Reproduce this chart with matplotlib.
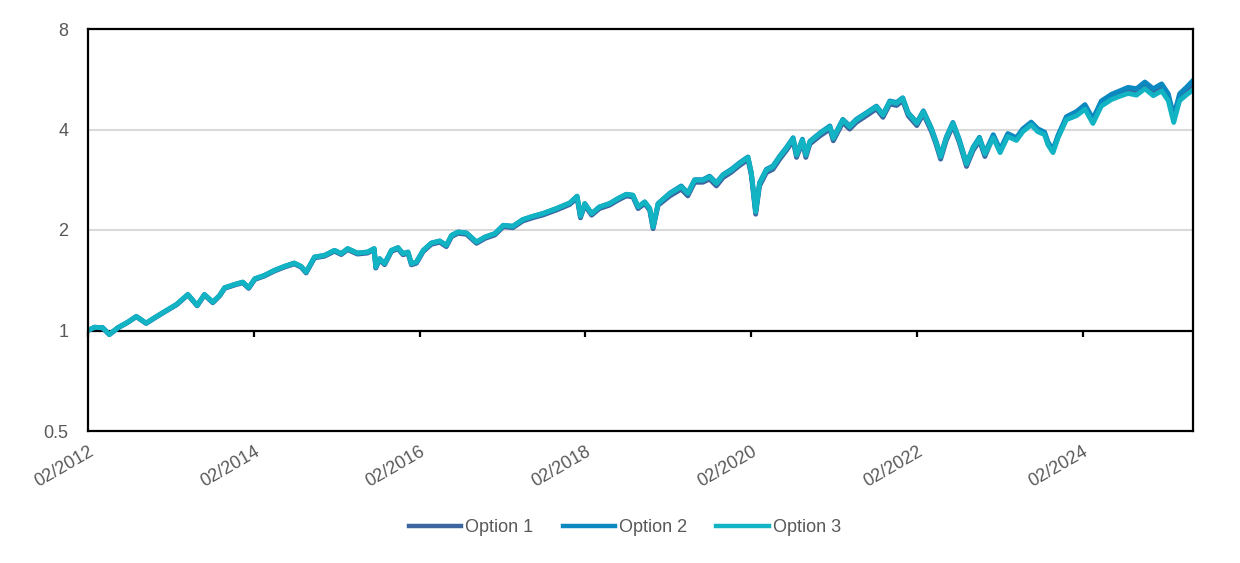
import matplotlib
matplotlib.use("Agg")
import matplotlib.pyplot as plt
import matplotlib.dates as mdates
import pandas as pd

plt.rcParams['font.family'] = ['Liberation Sans', 'DejaVu Sans']

dates = [
    "2012-02-01", "2012-03-01", "2012-04-06", "2012-05-05", "2012-06-11", "2012-07-25", "2012-09-01", "2012-10-14", "2012-11-20",
    "2013-01-04", "2013-02-25", "2013-04-16", "2013-05-27", "2013-06-28", "2013-08-04", "2013-09-03", "2013-09-25", "2013-11-08", "2013-12-14",
    "2014-01-09", "2014-02-05", "2014-03-19", "2014-05-02", "2014-06-15", "2014-07-29", "2014-08-28", "2014-09-19", "2014-10-26", "2014-12-09",
    "2015-01-22", "2015-02-21", "2015-03-21", "2015-05-03", "2015-06-17", "2015-07-16", "2015-07-23", "2015-08-09", "2015-08-31", "2015-09-30",
    "2015-10-29", "2015-11-20", "2015-12-12", "2015-12-27",
    "2016-01-18", "2016-02-17", "2016-03-24", "2016-04-30", "2016-05-29", "2016-06-21", "2016-07-20", "2016-08-26", "2016-10-09", "2016-11-15", "2016-12-29",
    "2017-02-04", "2017-03-18", "2017-05-01", "2017-06-15", "2017-07-28", "2017-09-26", "2017-11-24", "2017-12-26",
    "2018-01-10", "2018-01-29", "2018-02-28", "2018-04-04", "2018-05-18", "2018-06-24", "2018-07-31", "2018-08-29", "2018-09-21", "2018-10-20",
    "2018-11-11", "2018-11-26", "2018-12-18",
    "2019-02-08", "2019-03-30", "2019-04-28", "2019-05-28", "2019-07-03", "2019-08-02", "2019-09-01", "2019-09-30", "2019-11-06", "2019-12-12",
    "2020-01-18", "2020-02-02", "2020-02-21", "2020-03-09", "2020-04-08", "2020-05-07", "2020-06-06", "2020-07-05", "2020-08-04", "2020-08-19",
    "2020-09-14", "2020-09-29", "2020-10-17", "2020-12-01",
    "2021-01-13", "2021-01-28", "2021-03-11", "2021-04-10", "2021-05-09", "2021-06-23", "2021-08-06", "2021-09-04", "2021-10-04", "2021-11-03",
    "2021-11-30", "2021-12-24",
    "2022-01-31", "2022-03-01", "2022-04-05", "2022-04-24", "2022-05-16", "2022-06-10", "2022-07-09", "2022-08-06", "2022-09-07", "2022-10-06",
    "2022-11-03", "2022-11-27",
    "2023-01-03", "2023-02-02", "2023-03-08", "2023-04-15", "2023-05-13", "2023-06-19", "2023-07-18", "2023-08-17", "2023-09-01", "2023-09-23",
    "2023-10-15", "2023-11-21",
    "2024-01-05", "2024-02-11", "2024-03-17", "2024-04-23", "2024-06-07", "2024-07-13", "2024-08-19", "2024-09-25", "2024-11-01", "2024-12-08",
    "2025-01-14", "2025-02-12", "2025-03-08", "2025-04-03", "2025-05-03", "2025-05-31",
]

option1 = [
    1.000, 1.022, 1.018, 0.972, 1.017, 1.057, 1.100, 1.050, 1.089,
    1.137, 1.193, 1.278, 1.185, 1.277, 1.211, 1.269, 1.337, 1.368, 1.390,
    1.337, 1.422, 1.455, 1.506, 1.548, 1.583, 1.547, 1.487, 1.650, 1.669,
    1.727, 1.688, 1.747, 1.694, 1.706, 1.747, 1.538, 1.629, 1.574, 1.725, 1.757, 1.686, 1.704, 1.573,
    1.590, 1.724, 1.812, 1.838, 1.783, 1.911, 1.955, 1.941, 1.824, 1.887, 1.933,
    2.046, 2.032, 2.128, 2.177, 2.217, 2.295, 2.385, 2.498,
    2.175, 2.374, 2.215, 2.319, 2.373, 2.456, 2.530, 2.513, 2.318, 2.399, 2.292, 2.018, 2.372,
    2.53, 2.65, 2.53, 2.78, 2.78, 2.84, 2.71, 2.87, 2.98, 3.12,
    3.25, 2.91, 2.23, 2.71, 2.97, 3.04, 3.26, 3.46, 3.70, 3.30, 3.66, 3.30, 3.62, 3.83,
    4.01, 3.70, 4.20, 4.01, 4.20, 4.40, 4.61, 4.35, 4.77, 4.72, 4.88, 4.40,
    4.11, 4.45, 3.95, 3.64, 3.26, 3.71, 4.11, 3.66, 3.10, 3.46, 3.70, 3.32,
    3.82, 3.45, 3.85, 3.74, 3.98, 4.17, 3.98, 3.89, 3.63, 3.45, 3.80, 4.33,
    4.47, 4.68, 4.24, 4.79, 5.01, 5.13, 5.25, 5.19, 5.43, 5.18,
    5.36, 5.00, 4.30, 5.00, 5.22, 5.42,
]

option2 = [
    1.000, 1.023, 1.019, 0.973, 1.019, 1.059, 1.102, 1.052, 1.092,
    1.140, 1.197, 1.282, 1.189, 1.282, 1.216, 1.274, 1.343, 1.374, 1.396,
    1.343, 1.429, 1.462, 1.514, 1.556, 1.592, 1.556, 1.496, 1.660, 1.679,
    1.738, 1.699, 1.759, 1.706, 1.718, 1.759, 1.549, 1.641, 1.586, 1.738, 1.771, 1.699, 1.718, 1.586,
    1.603, 1.738, 1.828, 1.854, 1.799, 1.928, 1.973, 1.959, 1.841, 1.905, 1.951,
    2.066, 2.052, 2.149, 2.199, 2.240, 2.319, 2.410, 2.525,
    2.199, 2.400, 2.240, 2.345, 2.400, 2.484, 2.559, 2.542, 2.345, 2.427, 2.319, 2.042, 2.400,
    2.58, 2.71, 2.58, 2.83, 2.83, 2.90, 2.77, 2.93, 3.04, 3.18,
    3.31, 2.97, 2.28, 2.77, 3.04, 3.11, 3.33, 3.53, 3.78, 3.37, 3.74, 3.37, 3.69, 3.91,
    4.10, 3.78, 4.29, 4.10, 4.29, 4.49, 4.70, 4.44, 4.87, 4.82, 4.98, 4.49,
    4.20, 4.55, 4.04, 3.72, 3.34, 3.80, 4.20, 3.74, 3.17, 3.54, 3.79, 3.40,
    3.86, 3.48, 3.89, 3.78, 4.02, 4.21, 4.02, 3.93, 3.67, 3.48, 3.84, 4.37,
    4.53, 4.75, 4.31, 4.87, 5.10, 5.22, 5.35, 5.30, 5.55, 5.30,
    5.48, 5.12, 4.40, 5.12, 5.35, 5.60,
]

option3 = [
    1.000, 1.023, 1.019, 0.973, 1.019, 1.059, 1.102, 1.052, 1.092,
    1.140, 1.197, 1.282, 1.189, 1.282, 1.216, 1.274, 1.343, 1.374, 1.396,
    1.343, 1.429, 1.462, 1.514, 1.556, 1.592, 1.556, 1.496, 1.660, 1.679,
    1.738, 1.699, 1.759, 1.706, 1.718, 1.759, 1.549, 1.641, 1.586, 1.738, 1.771, 1.699, 1.718, 1.586,
    1.603, 1.738, 1.828, 1.854, 1.799, 1.928, 1.973, 1.959, 1.841, 1.905, 1.951,
    2.066, 2.052, 2.149, 2.199, 2.240, 2.319, 2.410, 2.525,
    2.199, 2.400, 2.240, 2.345, 2.400, 2.484, 2.559, 2.542, 2.345, 2.427, 2.319, 2.042, 2.400,
    2.572, 2.692, 2.572, 2.820, 2.820, 2.885, 2.756, 2.919, 3.021, 3.164,
    3.298, 2.953, 2.265, 2.756, 3.021, 3.091, 3.313, 3.511, 3.761, 3.352, 3.717, 3.352, 3.674, 3.894,
    4.076, 3.761, 4.268, 4.076, 4.268, 4.471, 4.680, 4.419, 4.844, 4.791, 4.959, 4.471,
    4.172, 4.520, 4.011, 3.692, 3.313, 3.769, 4.172, 3.717, 3.149, 3.517, 3.761, 3.375,
    3.78, 3.41, 3.81, 3.71, 3.94, 4.13, 3.94, 3.86, 3.60, 3.41, 3.77, 4.28,
    4.40, 4.60, 4.17, 4.70, 4.92, 5.03, 5.13, 5.07, 5.30, 5.05,
    5.22, 4.88, 4.20, 4.88, 5.08, 5.25,
]

series_names = ["Option 1", "Option 2", "Option 3"]
series_colors = ["#3d65a0", "#0b88bf", "#12b3c3"]
tick_dates = ["2012-02-01", "2014-02-01", "2016-02-01", "2018-02-01", "2020-02-01", "2022-02-01", "2024-02-01"]
y_ticks = [0.5, 1, 2, 4, 8]
y_tick_labels = ["0.5", "1", "2", "4", "8"]
grid_levels = [2, 4]
base_level = 1

text_color = "#595959"
fs = 13

x = pd.to_datetime(dates)
fig = plt.figure(figsize=(12.4, 5.63), dpi=100)
ax = fig.add_axes([88 / 1240, 1 - 431 / 563, (1193 - 88) / 1240, (431 - 29) / 563])

for lvl in grid_levels:
    ax.axhline(lvl, color="#d9d9d9", lw=1.5, zorder=1)
ax.axhline(base_level, color="black", lw=1.6, zorder=1.5)

for name, vals, col in zip(series_names, [option1, option2, option3], series_colors):
    ax.plot(x, vals, color=col, lw=3.5, label=name, solid_joinstyle="round", zorder=2)

ax.set_yscale("log", base=2)
ax.set_ylim(0.5, 8)
ax.set_yticks(y_ticks)
ax.set_yticklabels(y_tick_labels)
ax.yaxis.set_minor_locator(matplotlib.ticker.NullLocator())
ax.set_xlim(pd.Timestamp("2012-02-01"), pd.Timestamp("2025-06-01"))

ticks = pd.to_datetime(tick_dates)
ax.set_xticks(ticks)
ax.set_xticklabels([t.strftime("%m/%Y") for t in ticks], rotation=30, ha="right",
                   va="top", rotation_mode="anchor")
ax.tick_params(axis="x", length=0, pad=9, labelsize=fs, labelcolor=text_color)
ax.tick_params(axis="y", length=0, pad=14, labelsize=fs, labelcolor=text_color)
ax.grid(False)
for s in ax.spines.values():
    s.set_color("black")
    s.set_linewidth(1.6)
    s.set_zorder(3)

# tick marks hanging below the line at 1
sec = ax.secondary_xaxis(0.25)
sec.set_xticks(mdates.date2num(ticks))
sec.tick_params(axis="x", direction="out", length=4.5, width=1.6, color="black",
                labelbottom=False, labeltop=False)
sec.spines["bottom"].set_visible(False)

leg = fig.legend(loc="center", bbox_to_anchor=(625 / 1240, 1 - 528 / 563), ncol=3,
                 frameon=False, fontsize=fs, handlelength=2.9, handletextpad=0.25,
                 columnspacing=1.6)
for t in leg.get_texts():
    t.set_color(text_color)
for h in leg.get_lines():
    h.set_linewidth(3.2)

fig.savefig("out.png", dpi=100)
